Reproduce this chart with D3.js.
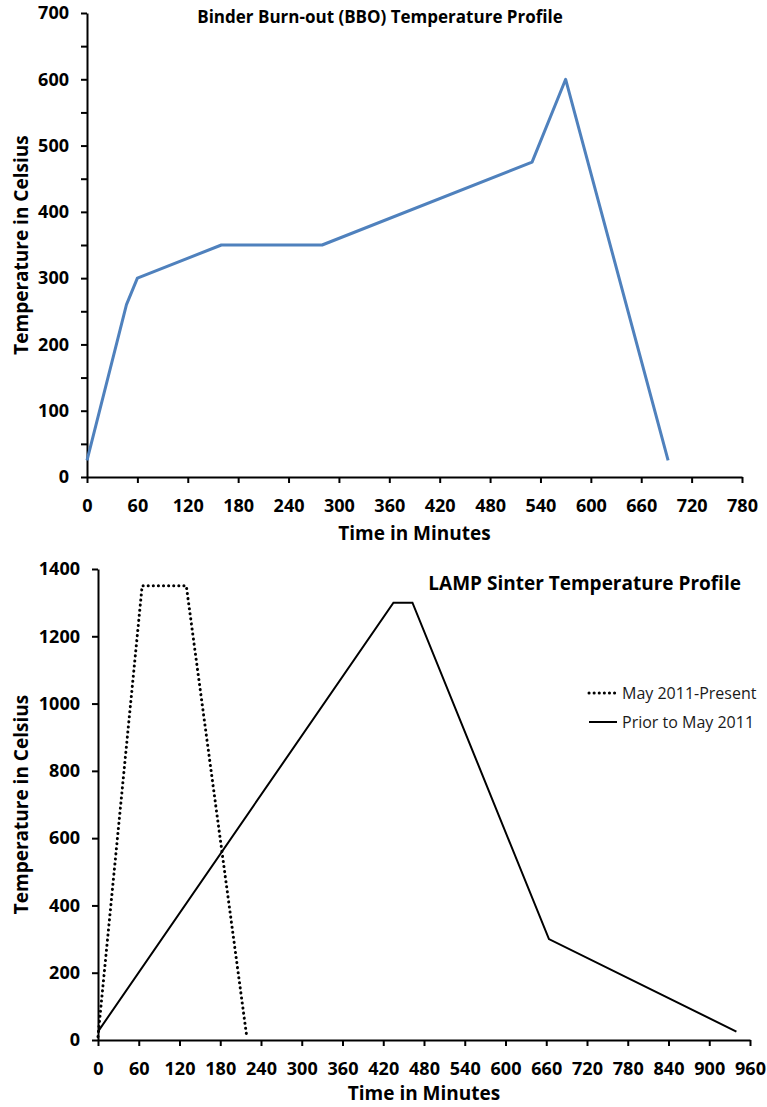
<!DOCTYPE html>
<html>
<head>
<meta charset="utf-8">
<script src="https://cdn.jsdelivr.net/npm/d3@7"></script>
<style>
  body { margin: 0; background: #fff; }
  svg { display: block; font-family: "Open Sans", "Liberation Sans", sans-serif; }
  .axis path, .axis line { stroke: #000; stroke-width: 2; }
  .axis text { font-size: 18px; font-weight: bold; fill: #000; font-family: "Open Sans", sans-serif; }
  .title { font-weight: bold; fill: #000; }
  .legend text { font-size: 16px; fill: #1a1a1a; }
</style>
</head>
<body>
<svg id="chart" width="767" height="1107"></svg>
<script>
// BBO profile
const bboTime = [0, 47, 60, 160, 280, 530, 570, 692];
const bboTemp = [25, 260, 300, 350, 350, 475, 600, 25];
const bboXTicks = [0, 60, 120, 180, 240, 300, 360, 420, 480, 540, 600, 660, 720, 780];
const bboYTicks = [0, 100, 200, 300, 400, 500, 600, 700];
const bboYMinor = [50, 150, 250, 350, 450, 550, 650];

// sinter profiles
const newTime = [0, 65, 130, 219];
const newTemp = [10, 1350, 1350, 10];
const oldTime = [0, 435, 463, 664, 940];
const oldTemp = [25, 1300, 1300, 300, 25];
const sinterXTicks = [0, 60, 120, 180, 240, 300, 360, 420, 480, 540, 600, 660, 720, 780, 840, 900, 960];
const sinterYTicks = [0, 200, 400, 600, 800, 1000, 1200, 1400];
const legendLabels = ["May 2011-Present", "Prior to May 2011"];

var svg = d3.select('#chart');

function pairs(xs, ys) {
  return xs.map((x, i) => [x, ys[i]]);
}

function drawAxes(x, y, xTicks, yTicks) {
  svg.append('g')
    .attr('class', 'axis')
    .attr('transform', `translate(0,${y.range()[0]})`)
    .call(d3.axisBottom(x).tickValues(xTicks).tickFormat(d3.format('d'))
      .tickSize(6).tickSizeOuter(0).tickPadding(16));

  svg.append('g')
    .attr('class', 'axis')
    .attr('transform', `translate(${x.range()[0]},0)`)
    .call(d3.axisLeft(y).tickValues(yTicks).tickFormat(d3.format('d'))
      .tickSize(6).tickSizeOuter(0).tickPadding(12));
}

function axisTitles(x, y, xTitleY) {
  let xr = x.range(), yr = y.range();
  svg.append('text')
    .attr('class', 'title')
    .attr('x', (xr[0] + xr[1]) / 2)
    .attr('y', xTitleY)
    .attr('text-anchor', 'middle')
    .style('font-size', '19px')
    .text('Time in Minutes');

  svg.append('text')
    .attr('class', 'title')
    .attr('transform', `translate(28,${(yr[0] + yr[1]) / 2}) rotate(-90)`)
    .attr('text-anchor', 'middle')
    .style('font-size', '19px')
    .text('Temperature in Celsius');
}

/* TOP CHART */

var x1 = d3.scaleLinear().domain([0, 780]).range([87, 742]);
var y1 = d3.scaleLinear().domain([0, 700]).range([477, 13]);

drawAxes(x1, y1, bboXTicks, bboYTicks);

svg.append('g')
  .attr('class', 'axis')
  .attr('transform', `translate(${x1.range()[0]},0)`)
  .call(d3.axisLeft(y1).tickValues(bboYMinor).tickSize(6).tickFormat(''))
  .select('.domain').remove();

axisTitles(x1, y1, 540);

svg.append('text')
  .attr('class', 'title')
  .attr('x', 380)
  .attr('y', 23)
  .attr('text-anchor', 'middle')
  .style('font-size', '17px')
  .text('Binder Burn-out (BBO) Temperature Profile');

var line1 = d3.line().x(d => x1(d[0])).y(d => y1(d[1]));

svg.append('path')
  .datum(pairs(bboTime, bboTemp))
  .attr('d', line1)
  .style('fill', 'none')
  .style('stroke', '#4f81bd')
  .style('stroke-width', 3)
  .style('stroke-linejoin', 'round');

/* BOTTOM CHART */

var x2 = d3.scaleLinear().domain([0, 960]).range([98, 750]);
var y2 = d3.scaleLinear().domain([0, 1400]).range([1040, 569]);

drawAxes(x2, y2, sinterXTicks, sinterYTicks);
axisTitles(x2, y2, 1100);

svg.append('text')
  .attr('class', 'title')
  .attr('x', 741)
  .attr('y', 590)
  .attr('text-anchor', 'end')
  .style('font-size', '19px')
  .text('LAMP Sinter Temperature Profile');

var line2 = d3.line().x(d => x2(d[0])).y(d => y2(d[1]));

svg.append('path')
  .datum(pairs(newTime, newTemp))
  .attr('d', line2)
  .style('fill', 'none')
  .style('stroke', '#000')
  .style('stroke-width', 3)
  .style('stroke-linecap', 'round')
  .style('stroke-dasharray', '0.1,5');

svg.append('path')
  .datum(pairs(oldTime, oldTemp))
  .attr('d', line2)
  .style('fill', 'none')
  .style('stroke', '#000')
  .style('stroke-width', 2);

// legend
var legend = svg.append('g').attr('class', 'legend');
var styles = [
  { dash: '0.1,5', cap: 'round', w: 3 },
  { dash: null, cap: 'butt', w: 2 }
];

legendLabels.forEach((label, i) => {
  let ly = 693 + i * 29;
  legend.append('line')
    .attr('x1', 589).attr('x2', 617)
    .attr('y1', ly).attr('y2', ly)
    .style('stroke', '#000')
    .style('stroke-width', styles[i].w)
    .style('stroke-linecap', styles[i].cap)
    .style('stroke-dasharray', styles[i].dash);
  legend.append('text')
    .attr('x', 622)
    .attr('y', ly + 6)
    .text(label);
});
</script>
</body>
</html>
